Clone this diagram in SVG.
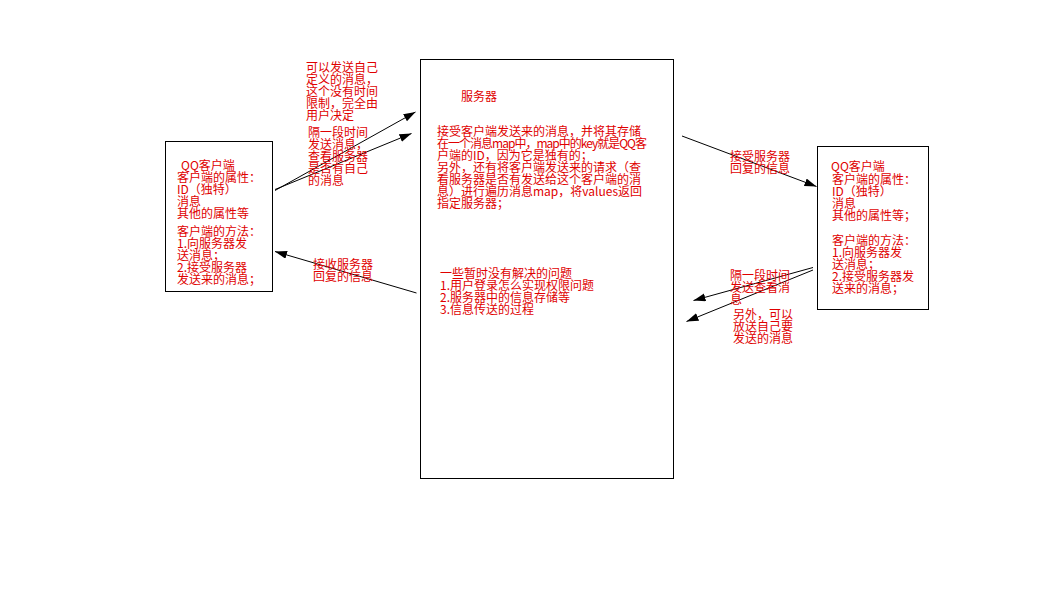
<svg xmlns="http://www.w3.org/2000/svg" width="1056" height="609" viewBox="0 0 1056 609">
<style>
.box{fill:#fff;stroke:#000;stroke-width:1}
.t{font-family:"Noto Sans CJK SC","Liberation Sans",sans-serif;font-size:12px;fill:#e00000}
.c{stroke:#000;stroke-width:1;fill:none}
</style>
<defs>
<marker id="ah" markerUnits="userSpaceOnUse" markerWidth="13" markerHeight="9" refX="12" refY="4" orient="auto">
<path d="M0,0 L12,4 L0,8 z" fill="#000"/>
</marker>
</defs>
<rect width="1056" height="609" fill="#fff"/>
<g id="client-left">
<rect class="box" x="165.5" y="141.5" width="107" height="150"/>
<text class="t" x="181" y="170">QQ客户端</text>
<text class="t" x="177" y="182">客户端的属性：</text>
<text class="t" x="177" y="194">ID（独特）</text>
<text class="t" x="177" y="206">消息</text>
<text class="t" x="177" y="218">其他的属性等</text>
<text class="t" x="177" y="236">客户端的方法：</text>
<text class="t" x="177" y="248">1.向服务器发</text>
<text class="t" x="177" y="260">送消息；</text>
<text class="t" x="177" y="272">2.接受服务器</text>
<text class="t" x="177" y="284">发送来的消息；</text>
</g>
<g id="server">
<rect class="box" x="420.5" y="59.5" width="253" height="419"/>
<text class="t" x="461" y="101">服务器</text>
<text class="t" x="437" y="136">接受客户端发送来的消息，并将其存储</text>
<text class="t" x="437" y="148" textLength="210" lengthAdjust="spacing">在一个消息map中，map中的key就是QQ客</text>
<text class="t" x="437" y="160">户端的ID，因为它是独有的；</text>
<text class="t" x="437" y="172">另外，还有将客户端发送来的请求（查</text>
<text class="t" x="437" y="184">看服务器是否有发送给这个客户端的消</text>
<text class="t" x="437" y="196">息）进行遍历消息map，将values返回</text>
<text class="t" x="437" y="208">指定服务器；</text>
<text class="t" x="440" y="278">一些暂时没有解决的问题</text>
<text class="t" x="440" y="290">1.用户登录怎么实现权限问题</text>
<text class="t" x="440" y="302">2.服务器中的信息存储等</text>
<text class="t" x="440" y="314">3.信息传送的过程</text>
</g>
<g id="client-right">
<rect class="box" x="817.5" y="146.5" width="111" height="163"/>
<text class="t" x="831" y="171">QQ客户端</text>
<text class="t" x="832" y="184">客户端的属性：</text>
<text class="t" x="832" y="196">ID（独特）</text>
<text class="t" x="832" y="208">消息</text>
<text class="t" x="832" y="220">其他的属性等；</text>
<text class="t" x="832" y="245">客户端的方法：</text>
<text class="t" x="832" y="257">1.向服务器发</text>
<text class="t" x="832" y="269">送消息；</text>
<text class="t" x="832" y="281">2.接受服务器发</text>
<text class="t" x="832" y="293">送来的消息；</text>
</g>
<g id="connectors">
<line class="c" x1="275" y1="190.5" x2="415.5" y2="112" marker-end="url(#ah)"/>
<line class="c" x1="275" y1="189.5" x2="411.5" y2="133.5" marker-end="url(#ah)"/>
<line class="c" x1="416.5" y1="293" x2="275" y2="251.5" marker-end="url(#ah)"/>
<line class="c" x1="682" y1="136" x2="816.5" y2="186.5" marker-end="url(#ah)"/>
<line class="c" x1="813" y1="267.5" x2="693.5" y2="300.5" marker-end="url(#ah)"/>
<line class="c" x1="813" y1="270" x2="686.5" y2="321.5" marker-end="url(#ah)"/>
<text class="t" x="306" y="72">可以发送自己</text>
<text class="t" x="306" y="84">定义的消息，</text>
<text class="t" x="306" y="96">这个没有时间</text>
<text class="t" x="306" y="108">限制，完全由</text>
<text class="t" x="306" y="120">用户决定</text>
<text class="t" x="308" y="137">隔一段时间</text>
<text class="t" x="308" y="149">发送消息，</text>
<text class="t" x="308" y="161">查看服务器</text>
<text class="t" x="308" y="173">是否有自己</text>
<text class="t" x="308" y="185">的消息</text>
<text class="t" x="313" y="269">接收服务器</text>
<text class="t" x="313" y="281">回复的信息</text>
<text class="t" x="730" y="161">接受服务器</text>
<text class="t" x="730" y="173">回复的信息</text>
<text class="t" x="730" y="280">隔一段时间</text>
<text class="t" x="730" y="292">发送查看消</text>
<text class="t" x="730" y="304">息</text>
<text class="t" x="733" y="319">另外，可以</text>
<text class="t" x="733" y="331">放送自己要</text>
<text class="t" x="733" y="343">发送的消息</text>
</g>
</svg>
